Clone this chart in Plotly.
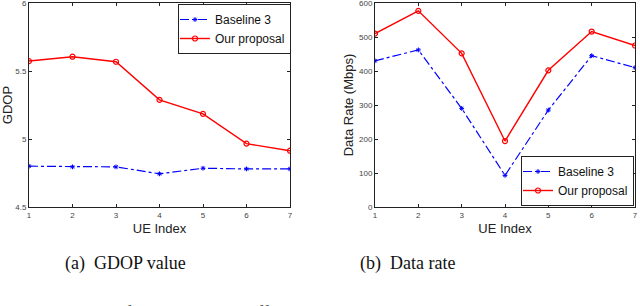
import plotly.graph_objects as go

ue_index = [1, 2, 3, 4, 5, 6, 7]
gdop_baseline = [4.80, 4.795, 4.795, 4.744, 4.785, 4.78, 4.78]
gdop_proposal = [5.573, 5.605, 5.568, 5.288, 5.185, 4.966, 4.914]
rate_baseline = [430, 462, 290, 93, 285, 445, 410]
rate_proposal = [510, 577, 452, 194, 402, 516, 475]
gdop_ticks = [4.5, 5, 5.5, 6]
rate_ticks = [0, 100, 200, 300, 400, 500, 600]

fig = go.Figure()

blue = dict(color="#0000ff", width=1.2, dash="dashdot")
red = dict(color="#ff0000", width=1.4)
bmark = dict(symbol="asterisk-open", size=4, color="#0000ff", line=dict(color="#0000ff", width=1))
rmark = dict(symbol="circle-open", size=5, color="#ff0000", line=dict(color="#ff0000", width=1.2))

fig.add_trace(go.Scatter(x=ue_index, y=gdop_baseline, mode="lines+markers", name="Baseline 3",
                         line=blue, marker=bmark, xaxis="x", yaxis="y", legend="legend"))
fig.add_trace(go.Scatter(x=ue_index, y=gdop_proposal, mode="lines+markers", name="Our proposal",
                         line=red, marker=rmark, xaxis="x", yaxis="y", legend="legend"))
fig.add_trace(go.Scatter(x=ue_index, y=rate_baseline, mode="lines+markers", name="Baseline 3",
                         line=blue, marker=bmark, xaxis="x2", yaxis="y2", legend="legend2"))
fig.add_trace(go.Scatter(x=ue_index, y=rate_proposal, mode="lines+markers", name="Our proposal",
                         line=red, marker=rmark, xaxis="x2", yaxis="y2", legend="legend2"))

W, H = 640, 306
def px(x):
    return x / W
def py(y):
    return 1 - y / H

tickfont = dict(family="Liberation Sans, Arial", size=8, color="#444444")
titlefont = dict(family="Liberation Sans, Arial", size=13, color="#222222")
common_axis = dict(showline=True, linecolor="#222222", linewidth=1, mirror="ticks",
                   ticks="inside", ticklen=3, tickcolor="#222222", showgrid=False,
                   zeroline=False, tickfont=tickfont, automargin=False,
                   ticklabeloverflow="allow")

legfont = dict(family="Liberation Sans, Arial", size=12, color="#111111")

fig.update_layout(
    width=W, height=H,
    margin=dict(l=0, r=0, t=0, b=0, autoexpand=False),
    paper_bgcolor="white", plot_bgcolor="white",
    xaxis=dict(domain=[px(29), px(290)], range=[1, 7], tickvals=ue_index,
               title=dict(text="UE Index", font=titlefont, standoff=5), anchor="y", **common_axis),
    yaxis=dict(domain=[py(207), py(3)], range=[4.5, 6], tickvals=gdop_ticks,
               title=dict(text="GDOP", font=titlefont, standoff=2), anchor="x", **common_axis),
    xaxis2=dict(domain=[px(375), px(635)], range=[1, 7], tickvals=ue_index,
                title=dict(text="UE Index", font=titlefont, standoff=5), anchor="y2", **common_axis),
    yaxis2=dict(domain=[py(207), py(3)], range=[0, 600], tickvals=rate_ticks,
                title=dict(text="Data Rate (Mbps)", font=titlefont, standoff=2), anchor="x2", **common_axis),
    legend=dict(x=px(178), y=py(4), xanchor="left", yanchor="top",
                bgcolor="white", bordercolor="#222222", borderwidth=1,
                font=legfont, tracegroupgap=0, itemwidth=30, indentation=-4),
    legend2=dict(x=px(634), y=py(156), xanchor="right", yanchor="top",
                 bgcolor="white", bordercolor="#222222", borderwidth=1,
                 font=legfont, tracegroupgap=0, itemwidth=30, indentation=-4),
    showlegend=True,
)

capfont = dict(family="Liberation Serif, Times New Roman", size=18, color="#111111")
fig.add_annotation(text="(a)  GDOP value", x=px(125), y=py(263), xref="paper", yref="paper",
                   showarrow=False, font=capfont, xanchor="center", yanchor="middle")
fig.add_annotation(text="(b)  Data rate", x=px(407), y=py(263), xref="paper", yref="paper",
                   showarrow=False, font=capfont, xanchor="center", yanchor="middle")
fig.add_annotation(text="Fig. 3.   Performance under different satellite selection schemes.",
                   x=px(39), y=py(301), xref="paper", yref="paper",
                   showarrow=False, font=capfont, xanchor="left", yanchor="top")

fig.write_html("out.html", config={"displayModeBar": False},
               post_script="document.body.style.margin='0';document.body.style.overflow='hidden';")
